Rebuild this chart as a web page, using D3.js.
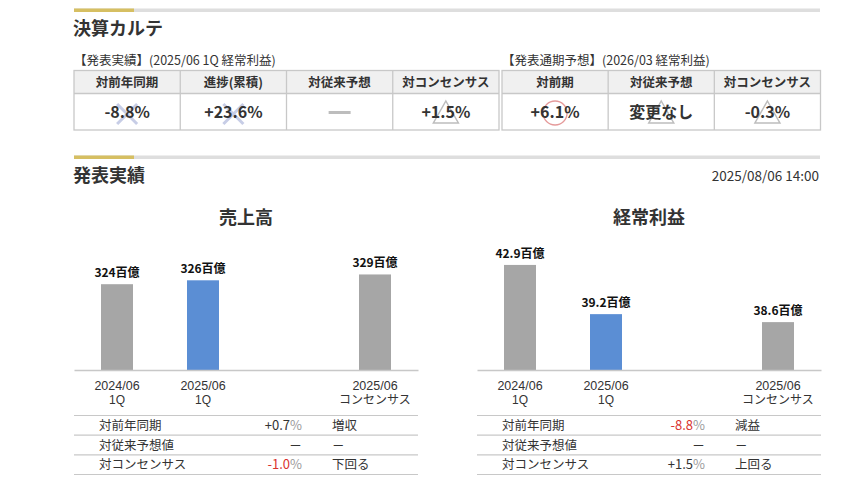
<!DOCTYPE html>
<html><head><meta charset="utf-8">
<script src="https://cdn.jsdelivr.net/npm/d3@7"></script>
<style>
html,body{margin:0;padding:0;background:#fff;}
svg text{font-family:'Noto Sans CJK JP','Noto Sans',sans-serif;}
svg text.cat1, svg text.cat2{font-family:'Liberation Sans','Noto Sans CJK JP',sans-serif;}
</style></head>
<body>
<svg id="c" width="845" height="489"></svg>
<script>
// ---- data ----
const topLeftTitle = "【発表実績】(2025/06 1Q 経常利益)";
const topLeftHeaders = ["対前年同期", "進捗(累積)", "対従来予想", "対コンセンサス"];
const topLeftValues = ["-8.8%", "+23.6%", "", "+1.5%"];
const topLeftMarks = ["x", "x", "dash", "tri"];
const topRightTitle = "【発表通期予想】(2026/03 経常利益)";
const topRightHeaders = ["対前期", "対従来予想", "対コンセンサス"];
const topRightValues = ["+6.1%", "変更なし", "-0.3%"];
const topRightMarks = ["circle", "tri", "tri"];

const slots = ["prev", "curr", "gap", "cons"];
const categorySlots = ["prev", "curr", "cons"];
const categoryLine1 = ["2024/06", "2025/06", "2025/06"];
const categoryLine2 = ["1Q", "1Q", "コンセンサス"];
const salesValues = [324, 326, 329];
const profitValues = [42.9, 39.2, 38.6];
const barKinds = ["past", "actual", "past"];
const salesDomain = [280, 330];
const profitDomain = [35, 43];

const rowLabels = ["対前年同期", "対従来予想値", "対コンセンサス"];
const salesRowValues = ["+0.7", null, "-1.0"];
const salesRowNotes = ["増収", "－", "下回る"];
const profitRowValues = ["-8.8", null, "+1.5"];
const profitRowNotes = ["減益", "－", "上回る"];

// ---- drawing ----
const svg = d3.select("#c");
const ink = "#333";
const gold = "#d6bf62";

function sectionBar(y) {
  svg.append("rect").attr("x", 74).attr("y", y).attr("width", 746).attr("height", 3.5).attr("fill", "#dedede");
  svg.append("rect").attr("x", 74).attr("y", y).attr("width", 60).attr("height", 3.5).attr("fill", gold);
}
sectionBar(8.5);
svg.append("text").attr("x", 73).attr("y", 35).attr("font-size", 18).attr("font-weight", "bold").attr("fill", ink).text("決算カルテ");

function topTable(x0, x1, title, headers, values, marks) {
  svg.append("text").attr("x", x0).attr("y", 65).attr("font-size", 12.5).attr("fill", ink).text(title);
  const xs = d3.scaleBand().domain(headers).range([x0, x1]);
  const g = svg.append("g");
  g.append("rect").attr("x", x0).attr("y", 70.5).attr("width", x1 - x0).attr("height", 23).attr("fill", "#f0f0f0");
  g.append("rect").attr("x", x0).attr("y", 70.5).attr("width", x1 - x0).attr("height", 59.5)
    .attr("fill", "none").attr("stroke", "#c8c8c8").attr("stroke-width", 1.3);
  g.append("line").attr("x1", x0).attr("x2", x1).attr("y1", 93.5).attr("y2", 93.5).attr("stroke", "#c8c8c8").attr("stroke-width", 1.3);
  headers.slice(1).forEach(h => {
    g.append("line").attr("x1", xs(h)).attr("x2", xs(h)).attr("y1", 70.5).attr("y2", 130).attr("stroke", "#c8c8c8").attr("stroke-width", 1.3);
  });
  headers.forEach((h, i) => {
    const cx = xs(h) + xs.bandwidth() / 2;
    g.append("text").attr("x", cx).attr("y", 86.5).attr("text-anchor", "middle").attr("font-size", 12.5)
      .attr("font-weight", "bold").attr("fill", ink).text(h);
    const m = marks[i];
    if (m === "x") {
      const c = "#c7cde6";
      g.append("line").attr("x1", cx - 10).attr("y1", 104).attr("x2", cx + 10).attr("y2", 124).attr("stroke", c).attr("stroke-width", 3);
      g.append("line").attr("x1", cx + 10).attr("y1", 104).attr("x2", cx - 10).attr("y2", 124).attr("stroke", c).attr("stroke-width", 3);
    } else if (m === "dash") {
      g.append("line").attr("x1", cx - 11).attr("y1", 112.5).attr("x2", cx + 11).attr("y2", 112.5).attr("stroke", "#bdbdbd").attr("stroke-width", 3);
    } else if (m === "tri") {
      g.append("path").attr("d", `M${cx},101 L${cx + 12.5},123 L${cx - 12.5},123 Z`).attr("fill", "none").attr("stroke", "#bdbdbd").attr("stroke-width", 1.5);
    } else if (m === "circle") {
      g.append("circle").attr("cx", cx).attr("cy", 113).attr("r", 12).attr("fill", "none").attr("stroke", "#e59a9a").attr("stroke-width", 1.3);
    }
    g.append("text").attr("x", cx).attr("y", 118).attr("text-anchor", "middle").attr("font-size", 16)
      .attr("font-weight", "bold").attr("fill", ink).text(values[i]);
  });
}
topTable(74, 499, topLeftTitle, topLeftHeaders, topLeftValues, topLeftMarks);
topTable(502, 820.5, topRightTitle, topRightHeaders, topRightValues, topRightMarks);

sectionBar(155.5);
svg.append("text").attr("x", 73).attr("y", 182).attr("font-size", 18).attr("font-weight", "bold").attr("fill", ink).text("発表実績");
svg.append("text").attr("x", 819).attr("y", 180.5).attr("text-anchor", "end").attr("font-size", 13.5).attr("fill", ink).text("2025/08/06 14:00");

function panel(x0, title, values, domain, pxPerUnit, rowValues, rowNotes) {
  const w = 344;
  const g = svg.append("g").attr("transform", `translate(${x0},0)`);
  g.append("text").attr("x", 172).attr("y", 224).attr("text-anchor", "middle").attr("font-size", 18)
    .attr("font-weight", "bold").attr("fill", ink).text(title);
  const x = d3.scaleBand().domain(slots).range([0, w]).padding(0);
  const y = d3.scaleLinear().domain(domain).range([370, 370 - (domain[1] - domain[0]) * pxPerUnit]);
  const bw = 32;
  const cx = s => x(s) + x.bandwidth() / 2;
  const data = categorySlots.map((s, i) => ({ s, v: values[i], kind: barKinds[i], l1: categoryLine1[i], l2: categoryLine2[i] }));
  g.selectAll("rect.bar").data(data).join("rect").attr("class", "bar")
    .attr("x", d => cx(d.s) - bw / 2).attr("width", bw)
    .attr("y", d => y(d.v)).attr("height", d => y(domain[0]) - y(d.v))
    .attr("fill", d => d.kind === "actual" ? "#5b8ed4" : "#a6a6a6");
  g.selectAll("text.val").data(data).join("text").attr("class", "val")
    .attr("x", d => cx(d.s)).attr("y", d => y(d.v) - 7)
    .attr("text-anchor", "middle").attr("font-size", 12).attr("font-weight", "bold").attr("fill", "#111")
    .text(d => d.v + "百億");
  const axis = d3.axisBottom(x).tickSize(0).tickFormat(() => "");
  const ag = g.append("g").attr("transform", "translate(0,370)").call(axis);
  ag.select(".domain").attr("stroke", "#c8c8c8").attr("stroke-width", 1.5);
  ag.selectAll(".tick").remove();
  g.selectAll("text.cat1").data(data).join("text").attr("class", "cat1")
    .attr("x", d => cx(d.s)).attr("y", 389.5)
    .attr("text-anchor", "middle").attr("font-size", 12.5).attr("fill", ink).text(d => d.l1);
  g.selectAll("text.cat2").data(data).join("text").attr("class", "cat2")
    .attr("x", d => cx(d.s)).attr("y", 404)
    .attr("text-anchor", "middle").attr("font-size", 12).attr("fill", ink).text(d => d.l2);
  // bottom table
  const ry = d3.scaleBand().domain(rowLabels).range([415.5, 474.5]);
  [415.5, ...rowLabels.map(r => ry(r) + ry.bandwidth())].forEach(yy => {
    g.append("line").attr("x1", 0).attr("x2", w).attr("y1", yy).attr("y2", yy).attr("stroke", "#c8c8c8").attr("stroke-width", 1.2);
  });
  rowLabels.forEach((r, i) => {
    const by = ry(r) + ry.bandwidth() / 2 + 4.5;
    g.append("text").attr("x", 25).attr("y", by).attr("font-size", 12.5).attr("fill", ink).text(r);
    const t = g.append("text").attr("x", 228).attr("y", by).attr("text-anchor", "end").attr("font-size", 13);
    if (rowValues[i] === null) {
      t.attr("fill", ink).text("－");
    } else {
      const neg = rowValues[i].startsWith("-");
      t.append("tspan").attr("fill", neg ? "#d9322e" : ink).text(rowValues[i]);
      t.append("tspan").attr("fill", "#9a9a9a").text("%");
    }
    g.append("text").attr("x", 258).attr("y", by).attr("font-size", 12.5).attr("fill", ink).text(rowNotes[i]);
  });
}
panel(74, "売上高", salesValues, salesDomain, 1.95, salesRowValues, salesRowNotes);
panel(477, "経常利益", profitValues, profitDomain, 13.3, profitRowValues, profitRowNotes);
</script>
</body></html>
